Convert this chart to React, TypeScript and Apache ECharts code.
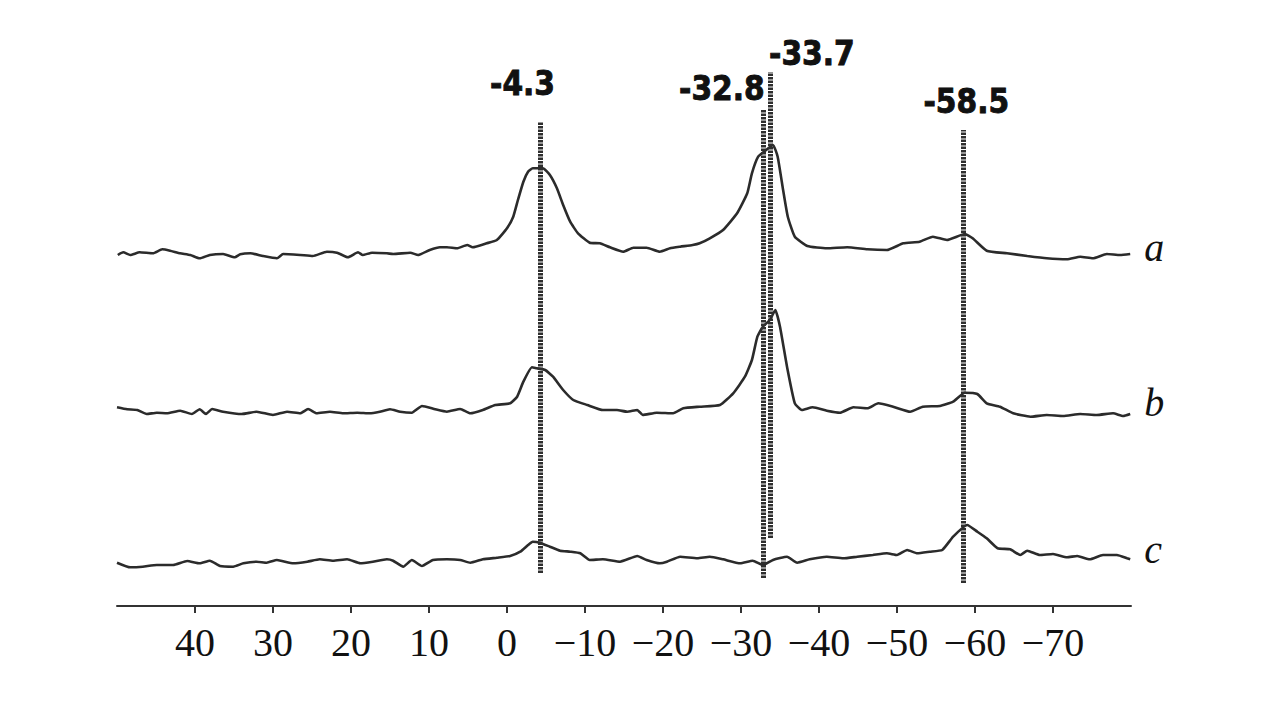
import React, { useEffect, useRef } from "react";
import * as echarts from "echarts";

// Chemical shift axis (ppm), reversed
const tickValues = [40, 30, 20, 10, 0, -10, -20, -30, -40, -50, -60, -70];

// Trace a
const ppmA = [49.9, 49.2, 48.3, 47.1, 45.4, 44.2, 43.2, 41.9, 40.6, 39.4, 38.1, 36.4, 34.9, 34.2, 32.9, 31.3, 29.5, 28.7, 26.5, 24.9, 23.1, 21.8, 20.4, 19.1, 18.5, 17.3, 15.4, 14.6, 12.4, 11.4, 9.9, 8.6, 7.7, 6.4, 5.1, 4.4, 2.6, 1.3, 0.0, -0.8, -1.4, -2.1, -2.7, -3.3, -4.6, -5.5, -6.4, -7.2, -8.1, -9.1, -10.6, -11.9, -13.2, -14.9, -16.2, -17.9, -19.6, -20.9, -22.2, -23.8, -24.7, -26.0, -27.7, -29.5, -30.8, -31.4, -32.2, -33.1, -34.1, -34.7, -35.4, -36.0, -36.9, -38.5, -41.0, -43.6, -46.2, -48.7, -50.8, -52.9, -54.6, -56.4, -58.7, -59.7, -61.5, -64.1, -66.7, -69.2, -71.8, -73.5, -75.1, -76.9, -78.6, -79.9];
const intA = [-1, 1.7, -1, 1.7, 0.7, 4.7, 3.3, 0.7, -1, -4.3, -1, 0, -3.3, -0.3, 0.7, -2, -4.3, 0, -1, -2, 2.3, 1.3, -3.3, 1.7, -1, 1.3, 0.7, 0, 1.3, -1, 4, 6.7, 6.7, 5.7, 9, 6.7, 10.7, 14, 25.7, 37.3, 54, 72.3, 82.3, 85.7, 85.7, 79, 65.7, 49, 32.3, 20.7, 11.3, 10.7, 6.7, 2.3, 6.3, 6.3, 2.3, 5.7, 7.3, 9, 10.7, 15.7, 24, 40.7, 60.7, 80.7, 97.3, 103.3, 109, 97.3, 64, 37.3, 17.3, 8, 5.7, 6.7, 4.7, 4, 10.7, 12.3, 17.3, 14, 20, 15.7, 3.3, 0.7, -2, -4.3, -5.3, -2.7, -4.3, 0, -1, 0];

// Trace b
const ppmB = [50.0, 48.7, 47.4, 46.2, 44.9, 43.6, 41.9, 40.4, 39.4, 38.6, 37.8, 36.4, 34.0, 32.1, 30.0, 28.2, 26.5, 25.5, 24.4, 22.7, 21.0, 19.2, 17.6, 16.3, 15.0, 13.7, 12.2, 10.9, 9.2, 7.7, 6.0, 4.7, 3.1, 1.5, -0.4, -1.3, -2.1, -3.2, -3.8, -4.9, -5.9, -7.2, -8.5, -10.3, -12.3, -14.1, -15.4, -16.7, -17.4, -19.2, -21.3, -22.6, -24.7, -27.3, -29.0, -30.5, -31.4, -32.1, -32.8, -33.7, -34.4, -35.0, -35.9, -36.9, -37.8, -39.2, -41.0, -42.7, -44.4, -46.2, -47.6, -49.5, -51.7, -53.3, -55.5, -57.2, -58.7, -60.3, -61.5, -63.2, -64.9, -67.1, -69.2, -71.3, -73.5, -75.6, -77.7, -79.0, -79.9];
const intB = [2.7, 0.7, 0, -4, -2.7, -3.3, -0.7, -4, 0.7, -4, 1, -1.7, -4, -1.7, -5, -1.7, -3.3, 1, -3.3, -1.7, -3.3, -2.7, -3.3, -1.7, 0.7, -1.7, -2.7, 4, 0.7, -1.7, 1, -3.3, 0, 5, 6.7, 13.3, 28.3, 42.7, 41.7, 40, 33.3, 20, 10, 5, 0, 0, -1.7, 0, -5, -2.7, -3.3, 1.7, 3.3, 5, 16.7, 33.3, 50, 73.3, 83.3, 90, 100, 83.3, 43.3, 6.7, 0, 2.7, -0.7, -2.7, 2.7, 1.7, 6.7, 3.3, -1.7, 3.3, 4, 8.3, 17.3, 16, 6.7, 3.3, -3.3, -6.7, -5, -6, -4, -5, -3.3, -6, -4];

// Trace c
const ppmC = [50.0, 48.3, 46.7, 44.9, 42.8, 41.0, 39.4, 38.1, 36.8, 35.1, 33.8, 32.1, 30.8, 29.5, 27.4, 25.6, 24.0, 22.3, 20.5, 18.8, 17.2, 15.4, 14.6, 13.3, 12.2, 10.9, 9.5, 7.7, 6.0, 4.7, 3.1, 1.3, -0.4, -1.7, -2.7, -3.3, -4.2, -5.5, -6.8, -8.1, -9.4, -10.6, -12.3, -14.5, -16.7, -17.9, -19.6, -20.5, -22.2, -24.4, -26.0, -27.7, -29.9, -31.5, -32.8, -34.1, -35.9, -37.2, -38.8, -41.0, -43.1, -44.9, -46.9, -48.7, -50.0, -51.3, -52.6, -54.2, -55.8, -57.2, -59.0, -60.3, -61.5, -62.9, -64.5, -65.8, -66.7, -68.3, -70.0, -71.8, -73.1, -74.7, -76.4, -78.2, -79.5, -79.9];
const intC = [0.3, -4.3, -3.7, -2, -2, 2, -0.3, 2.3, -3, -3.7, -0.3, 1.3, 0.3, 3, -0.3, 1.3, 3.7, 2.3, 3.7, -0.3, 1.3, 3.7, 2.3, -3.7, 3, -3, 3, 3.7, 3, 0.3, 3.7, 5.3, 7, 11.3, 18, 21.3, 20.3, 16.3, 12.3, 11.3, 9.7, 3, 3.7, 1.3, 7, 3, -0.3, 1.3, 6.3, 4.7, 6.3, 3.7, -0.3, 2.3, -2, 3, 6.3, 0.3, 3.7, 6.3, 4.7, 6.3, 8, 9.7, 8, 13, 9.7, 11.3, 13, 26.3, 38, 31.3, 24.7, 14.7, 13.7, 8, 12.3, 8, 9, 5.7, 7, 3.7, 8, 8, 4.7, 3.7];

const traceNames = ["a", "b", "c"];

// Assigned peaks (ppm)
const peakPpm = [-4.3, -32.8, -33.7, -58.5];
const peakLabels = ["-4.3", "-32.8", "-33.7", "-58.5"];

// ---- layout (stacking offsets, line spans, label placement) ----
const OFFSETS = [352, 196, 43];
const LINE_SPANS: [number, number][] = [[33, 484], [28, 496], [68, 534], [23, 476]];
const LABEL_Y = [523, 518, 553, 505];
const LABEL_DX = [-18, -41, 42, 3];
const END_LABEL_DY = [-7, -12, -10];

export default function App() {
  const ref = useRef<HTMLDivElement>(null);
  useEffect(() => {
    if (!ref.current) return;
    const chart = echarts.init(ref.current, null, { renderer: "svg" });
    const traces = [
      [ppmA, intA],
      [ppmB, intB],
      [ppmC, intC],
    ];
    const lineSeries = traces.map(([ppm, inten], k) => ({
      type: "line",
      name: traceNames[k],
      data: ppm.map((p, i) => [p, inten[i] + OFFSETS[k]]),
      showSymbol: false,
      smooth: 0.15,
      lineStyle: { color: "#2b2b2b", width: 2.6 },
      endLabel: {
        show: true,
        formatter: traceNames[k],
        distance: 0,
        align: "left",
        verticalAlign: "middle",
        offset: [14, END_LABEL_DY[k]],
        fontFamily: "Liberation Serif, Times New Roman, serif",
        fontStyle: "italic",
        fontSize: 40,
        color: "#111",
      },
      silent: true,
      z: 3,
    }));

    const peakSeries = {
      type: "scatter",
      name: "peaks",
      symbol: "circle",
      symbolSize: 0,
      itemStyle: { color: "#fff", opacity: 1 },
      silent: true,
      data: peakPpm.map((p, i) => ({
        value: [p, LABEL_Y[i]],
        label: { offset: [LABEL_DX[i], 0] },
      })),
      label: {
        show: true,
        position: "inside",
        opacity: 1,
        formatter: (params: any) => peakLabels[params.dataIndex],
        fontFamily: "DejaVu Sans Condensed, Liberation Sans Narrow, DejaVu Sans, sans-serif",
        fontWeight: "bold",
        fontSize: 33,
        color: "#111",
        textBorderColor: "#000",
        textBorderWidth: 0.8,
      },
      markLine: {
        silent: true,
        symbol: ["none", "none"],
        label: { show: false },
        lineStyle: { color: "#2e2e2e", width: 5, type: [2.5, 1], opacity: 1 },
        data: peakPpm.map((p, i) => [
          { coord: [p, LINE_SPANS[i][0]] },
          { coord: [p, LINE_SPANS[i][1]] },
        ]),
      },
      z: 4,
    };

    chart.setOption({
      animation: false,
      backgroundColor: "#fff",
      grid: { left: 117, right: 152, top: 6, bottom: 103 },
      xAxis: {
        type: "value",
        min: -80,
        max: 50,
        interval: 10,
        inverse: true,
        splitLine: { show: false },
        axisLine: { show: true, onZero: false, lineStyle: { color: "#333", width: 2 } },
        axisTick: {
          show: true,
          length: 7,
          inside: false,
          customValues: tickValues,
          lineStyle: { color: "#333", width: 2 },
        },
        axisLabel: {
          show: true,
          customValues: tickValues,
          margin: 16,
          fontFamily: "Liberation Serif, Times New Roman, serif",
          fontSize: 40,
          color: "#111",
          formatter: (v: number) => (v < 0 ? "\u2212" + Math.abs(v) : String(v)),
        },
      },
      yAxis: {
        type: "value",
        min: 0,
        max: 600,
        show: false,
        splitLine: { show: false },
      },
      series: [...lineSeries, peakSeries],
    });
    return () => chart.dispose();
  }, []);
  return (
    <div
      ref={ref}
      style={{ position: "fixed", left: 0, top: 0, width: "1283px", height: "709px", background: "#fff" }}
    />
  );
}
